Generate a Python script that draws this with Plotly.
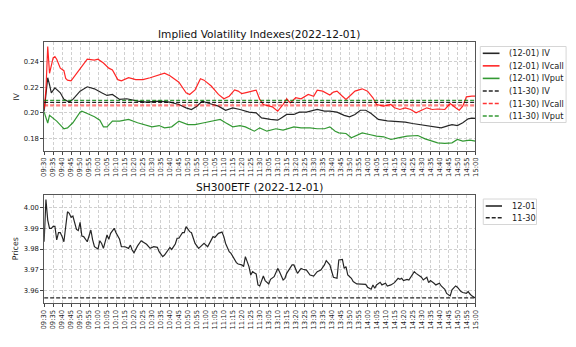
import plotly.graph_objects as go

# ---------------- data ----------------
tick_labels = ["09:30", "09:35", "09:40", "09:45", "09:50", "09:55", "10:00", "10:05", "10:10",
               "10:15", "10:20", "10:25", "10:30", "10:35", "10:40", "10:45", "10:50", "10:55",
               "11:00", "11:05", "11:10", "11:15", "11:20", "11:25", "11:30",
               "13:05", "13:10", "13:15", "13:20", "13:25", "13:30", "13:35", "13:40", "13:45",
               "13:50", "13:55", "14:00", "14:05", "14:10", "14:15", "14:20", "14:25", "14:30",
               "14:35", "14:40", "14:45", "14:50", "14:55", "15:00"]

call_times = ["09:30", "09:31", "09:32", "09:33", "09:34", "09:35", "09:36", "09:37", "09:39", "09:41",
              "09:42", "09:43", "09:45", "09:47", "09:50", "09:54", "09:58", "10:00", "10:03", "10:06",
              "10:08", "10:11", "10:13", "10:17", "10:21", "10:25", "10:29", "10:33", "10:37", "10:40",
              "10:45", "10:49", "10:51", "10:54", "10:57", "10:59", "11:03", "11:07", "11:10", "11:13",
              "11:16", "11:18", "11:20", "11:23", "11:26", "11:28", "11:30", "13:02", "13:07", "13:10",
              "13:13", "13:15", "13:17", "13:20", "13:23", "13:27", "13:30", "13:32", "13:35", "13:39",
              "13:41", "13:43", "13:46", "13:48", "13:51", "13:53", "13:57", "14:00", "14:03", "14:05",
              "14:09", "14:13", "14:15", "14:18", "14:21", "14:24", "14:27", "14:30", "14:33", "14:36",
              "14:39", "14:43", "14:46", "14:49", "14:51", "14:53", "14:55", "14:58", "15:00"]
call_vals = [0.203, 0.218, 0.252, 0.231, 0.237, 0.243, 0.244, 0.242, 0.235, 0.233,
             0.227, 0.2256, 0.225, 0.229, 0.234, 0.242, 0.2413, 0.242, 0.239, 0.235,
             0.2335, 0.226, 0.225, 0.2275, 0.226, 0.226, 0.2275, 0.229, 0.231, 0.229,
             0.224, 0.2157, 0.2144, 0.218, 0.2267, 0.2256, 0.221, 0.2144, 0.211, 0.213,
             0.218, 0.217, 0.215, 0.216, 0.217, 0.2178, 0.2105, 0.2065, 0.2047, 0.2013,
             0.2065, 0.211, 0.2078, 0.2118, 0.211, 0.2144, 0.213, 0.2178, 0.217, 0.214,
             0.2162, 0.217, 0.213, 0.2105, 0.2144, 0.217, 0.2188, 0.217, 0.2118, 0.2065,
             0.2052, 0.2065, 0.2039, 0.2026, 0.2039, 0.2026, 0.200, 0.202, 0.2039, 0.2026,
             0.203, 0.2026, 0.2073, 0.2039, 0.202, 0.2052, 0.2125, 0.213, 0.213]

iv_times = ["09:30", "09:31", "09:32", "09:33", "09:34", "09:36", "09:39", "09:41", "09:44", "09:46",
            "09:50", "09:54", "09:58", "10:02", "10:05", "10:08", "10:12", "10:16", "10:22", "10:27",
            "10:34", "10:40", "10:45", "10:49", "10:52", "10:55", "10:58", "11:02", "11:07", "11:11",
            "11:15", "11:19", "11:24", "11:28", "13:01", "13:06", "13:10", "13:12", "13:15", "13:19",
            "13:22", "13:26", "13:29", "13:32", "13:36", "13:39", "13:43", "13:47", "13:50", "13:53",
            "13:56", "13:59", "14:02", "14:06", "14:11", "14:15", "14:21", "14:25", "14:29", "14:34",
            "14:37", "14:41", "14:45", "14:47", "14:50", "14:53", "14:56", "14:58", "15:00"]
iv_vals = [0.201, 0.215, 0.2275, 0.222, 0.2157, 0.2196, 0.2157, 0.2105, 0.2084, 0.2105,
           0.217, 0.2204, 0.2188, 0.2157, 0.2136, 0.2144, 0.2105, 0.211, 0.2092, 0.2084,
           0.2092, 0.2084, 0.2065, 0.2039, 0.2026, 0.2052, 0.2092, 0.2073, 0.2052, 0.202,
           0.2039, 0.2026, 0.2005, 0.200, 0.196, 0.1948, 0.1942, 0.196, 0.1987, 0.1987,
           0.2005, 0.2005, 0.2013, 0.2026, 0.2013, 0.2013, 0.2005, 0.198, 0.1969, 0.1987,
           0.202, 0.202, 0.1995, 0.1948, 0.1937, 0.1932, 0.1927, 0.1916, 0.1908, 0.190,
           0.189, 0.1882, 0.190, 0.1908, 0.190, 0.1922, 0.1953, 0.1958, 0.1956]

put_times = ["09:30", "09:32", "09:33", "09:35", "09:37", "09:40", "09:41", "09:43", "09:46", "09:50",
             "09:51", "09:54", "09:58", "10:01", "10:03", "10:05", "10:08", "10:12", "10:17", "10:22",
             "10:26", "10:30", "10:34", "10:37", "10:41", "10:45", "10:50", "10:54", "10:59", "11:04",
             "11:08", "11:11", "11:15", "11:19", "11:22", "11:27", "11:30", "13:04", "13:09", "13:13",
             "13:19", "13:23", "13:28", "13:32", "13:36", "13:39", "13:42", "13:44", "13:48", "13:51",
             "13:53", "13:57", "14:01", "14:05", "14:09", "14:13", "14:17", "14:22", "14:28", "14:32",
             "14:36", "14:39", "14:43", "14:47", "14:50", "14:53", "14:57", "15:00"]
put_vals = [0.2005, 0.192, 0.198, 0.196, 0.1935, 0.189, 0.1875, 0.1882, 0.1922, 0.2005,
            0.2013, 0.1995, 0.1969, 0.1942, 0.189, 0.189, 0.1935, 0.1935, 0.1948, 0.1922,
            0.1908, 0.189, 0.190, 0.1882, 0.189, 0.1935, 0.1908, 0.1908, 0.1922, 0.1935,
            0.1948, 0.1922, 0.189, 0.190, 0.189, 0.1856, 0.1882, 0.1856, 0.1875, 0.1864,
            0.189, 0.1882, 0.1882, 0.1875, 0.1875, 0.189, 0.1856, 0.1843, 0.1838, 0.1804,
            0.1817, 0.1843, 0.183, 0.1817, 0.1812, 0.1791, 0.1804, 0.1817, 0.1822, 0.1796,
            0.1778, 0.1765, 0.176, 0.1765, 0.1791, 0.1778, 0.1786, 0.1778]

prev_iv = 0.2081      # (11-30) IV
prev_call = 0.2059    # (11-30) IVcall
prev_put = 0.2097     # (11-30) IVput

price_times = ["09:30", "09:31", "09:32", "09:33", "09:34", "09:35", "09:36", "09:37", "09:38", "09:39",
               "09:40", "09:41", "09:42", "09:43", "09:44", "09:45", "09:46", "09:47", "09:48", "09:49",
               "09:50", "09:51", "09:52", "09:54", "09:56", "09:57", "09:58", "10:00", "10:01", "10:02",
               "10:03", "10:05", "10:06", "10:07", "10:09", "10:10", "10:12", "10:13", "10:15", "10:17",
               "10:18", "10:19", "10:20", "10:22", "10:24", "10:27", "10:29", "10:31", "10:33", "10:34",
               "10:36", "10:37", "10:38", "10:40", "10:41", "10:43", "10:44", "10:45", "10:47", "10:48",
               "10:49", "10:51", "10:52", "10:54", "10:56", "10:57", "10:59", "11:01", "11:02", "11:04",
               "11:05", "11:07", "11:09", "11:10", "11:11", "11:13", "11:14", "11:16", "11:17", "11:18",
               "11:20", "11:21", "11:22", "11:24", "11:25", "11:26", "11:28", "11:29", "11:30", "13:02",
               "13:03", "13:05", "13:06", "13:08", "13:10", "13:11", "13:13", "13:14", "13:15", "13:18",
               "13:19", "13:21", "13:23", "13:24", "13:26", "13:28", "13:30", "13:32", "13:34", "13:36",
               "13:37", "13:39", "13:40", "13:41", "13:43", "13:44", "13:46", "13:47", "13:48", "13:49",
               "13:51", "13:52", "13:54", "13:56", "13:59", "14:00", "14:02", "14:03", "14:04", "14:05",
               "14:07", "14:08", "14:10", "14:11", "14:13", "14:15", "14:17", "14:18", "14:19", "14:20",
               "14:22", "14:23", "14:24", "14:26", "14:27", "14:29", "14:30", "14:31", "14:33", "14:34",
               "14:35", "14:37", "14:38", "14:40", "14:41", "14:43", "14:44", "14:46", "14:47", "14:49",
               "14:50", "14:52", "14:53", "14:55", "14:56", "14:57", "14:58", "15:00"]
price_vals = [3.9835, 4.004, 3.994, 3.990, 3.990, 3.991, 3.991, 3.9844, 3.9879, 3.9879,
              3.986, 3.9835, 3.9908, 3.998, 3.9973, 3.9953, 3.996, 3.9932, 3.9895, 3.9889,
              3.9929, 3.9863, 3.986, 3.9835, 3.9892, 3.9844, 3.9811, 3.980, 3.984, 3.9827,
              3.9803, 3.9868, 3.9847, 3.9876, 3.990, 3.9879, 3.9847, 3.9811, 3.9811, 3.9803,
              3.9819, 3.9795, 3.9782, 3.9815, 3.984, 3.9823, 3.9803, 3.9811, 3.9808, 3.9787,
              3.9763, 3.9771, 3.9782, 3.9808, 3.9798, 3.9824, 3.9852, 3.9852, 3.9879, 3.9879,
              3.9908, 3.9884, 3.9879, 3.9827, 3.9803, 3.9811, 3.9827, 3.9811, 3.9827, 3.986,
              3.9856, 3.9876, 3.9882, 3.986, 3.9827, 3.9787, 3.9779, 3.9747, 3.9734, 3.9727,
              3.9723, 3.9715, 3.9763, 3.9715, 3.9674, 3.969, 3.9679, 3.9626, 3.9621, 3.9669,
              3.9647, 3.9631, 3.9653, 3.9666, 3.9706, 3.969, 3.965, 3.9658, 3.9682, 3.9723,
              3.9723, 3.9682, 3.9706, 3.9702, 3.9698, 3.9674, 3.9669, 3.969, 3.9698, 3.9723,
              3.9744, 3.9723, 3.9698, 3.9663, 3.9658, 3.9747, 3.975, 3.9706, 3.9715, 3.9674,
              3.9658, 3.9642, 3.9631, 3.9629, 3.9629, 3.9615, 3.9605, 3.9626, 3.961, 3.9626,
              3.9639, 3.9626, 3.9634, 3.9621, 3.9626, 3.9637, 3.9658, 3.9653, 3.9658, 3.9647,
              3.9653, 3.965, 3.9663, 3.969, 3.9682, 3.9669, 3.9663, 3.965, 3.9663, 3.9637,
              3.9647, 3.9634, 3.9626, 3.9634, 3.9621, 3.9605, 3.9585, 3.9573, 3.9602, 3.9621,
              3.9615, 3.9594, 3.9589, 3.9585, 3.9594, 3.9582, 3.9573, 3.9563]
prev_price = 3.9563   # 11-30 price


# -------- map trading time to a continuous session position (lunch break removed) --------
def pos(t):
    h, m = map(int, t.split(":"))
    mins = h * 60 + m
    return mins - 570 if mins <= 690 else mins - 780 + 120


def posl(ts):
    return [pos(t) for t in ts]


x_start, x_end = pos(tick_labels[0]), pos(tick_labels[-1])
tick_pos = posl(tick_labels)

FONT = "DejaVu Sans"
BLACK = "rgba(0,0,0,0.85)"
RED = "rgba(255,0,0,0.85)"
GREEN = "rgba(0,128,0,0.8)"
PINK = "rgba(255,0,0,0.5)"
DASH = "4px,2px"

fig = go.Figure()

# top panel
fig.add_trace(go.Scatter(x=posl(iv_times), y=iv_vals, mode="lines", name="(12-01) IV",
                         line=dict(color=BLACK, width=1.2), xaxis="x", yaxis="y"))
fig.add_trace(go.Scatter(x=posl(call_times), y=call_vals, mode="lines", name="(12-01) IVcall",
                         line=dict(color=RED, width=1.2), xaxis="x", yaxis="y"))
fig.add_trace(go.Scatter(x=posl(put_times), y=put_vals, mode="lines", name="(12-01) IVput",
                         line=dict(color=GREEN, width=1.2), xaxis="x", yaxis="y"))
fig.add_trace(go.Scatter(x=[x_start, x_end], y=[prev_iv, prev_iv], mode="lines", name="(11-30) IV",
                         line=dict(color=BLACK, width=1.2, dash=DASH), xaxis="x", yaxis="y"))
fig.add_trace(go.Scatter(x=[x_start, x_end], y=[prev_call, prev_call], mode="lines", name="(11-30) IVcall",
                         line=dict(color=PINK, width=2.2, dash=DASH), xaxis="x", yaxis="y"))
fig.add_trace(go.Scatter(x=[x_start, x_end], y=[prev_put, prev_put], mode="lines", name="(11-30) IVput",
                         line=dict(color=GREEN, width=1.2, dash=DASH), xaxis="x", yaxis="y"))

# bottom panel
fig.add_trace(go.Scatter(x=posl(price_times), y=price_vals, mode="lines", name="12-01",
                         line=dict(color=BLACK, width=1.2), xaxis="x2", yaxis="y2"))
fig.add_trace(go.Scatter(x=[x_start, x_end], y=[prev_price, prev_price], mode="lines", name="11-30",
                         line=dict(color=BLACK, width=1.2, dash=DASH), xaxis="x2", yaxis="y2"))

W, H = 576, 347
xl, xr = 40.7 / W, 478 / W
top_dom = [1 - 150.7 / H, 1 - 42 / H]
bot_dom = [1 - 303.3 / H, 1 - 194.7 / H]

common_x = dict(range=[x_start, x_end], tickmode="array", tickvals=tick_pos, ticktext=tick_labels,
                tickangle=-90, tickfont=dict(size=6.8, color="#222"), ticks="outside", ticklen=3,
                tickcolor="#444", showgrid=True, gridcolor="#d0d0d0", griddash="3px,2px", gridwidth=0.8,
                showline=True, linecolor="#555", linewidth=0.8, mirror=True, zeroline=False,
                domain=[xl, xr])
common_y = dict(tickfont=dict(size=6.8, color="#222"), ticks="outside", ticklen=3, tickcolor="#444",
                showgrid=True, gridcolor="#d0d0d0", griddash="3px,2px", gridwidth=0.8,
                showline=True, linecolor="#555", linewidth=0.8, mirror=True, zeroline=False)

# ---- hand-drawn legends (matplotlib-like compact spacing), in pixel coordinates ----
shapes = []
annotations = []


def px_x(v):
    return v / W


def px_y(v):
    return 1 - v / H


def legend_box(x0, y0, x1, y1, entries, line_x0, line_x1, text_x, row0, step):
    shapes.append(dict(type="rect", xref="paper", yref="paper", x0=px_x(x0), x1=px_x(x1),
                       y0=px_y(y1), y1=px_y(y0), line=dict(color="#d6d6d6", width=1),
                       fillcolor="rgba(255,255,255,0.85)", layer="above"))
    for i, (label, color, width, dash) in enumerate(entries):
        yy = row0 + i * step
        shapes.append(dict(type="line", xref="paper", yref="paper", x0=px_x(line_x0), x1=px_x(line_x1),
                           y0=px_y(yy), y1=px_y(yy), line=dict(color=color, width=width, dash=dash),
                           layer="above"))
        annotations.append(dict(text=label, x=px_x(text_x), y=px_y(yy), xref="paper", yref="paper",
                                showarrow=False, xanchor="left", yanchor="middle",
                                font=dict(size=8.2, color="#222")))


top_entries = [("(12-01) IV", BLACK, 1.6, "solid"),
               ("(12-01) IVcall", RED, 1.6, "solid"),
               ("(12-01) IVput", GREEN, 1.6, "solid"),
               ("(11-30) IV", BLACK, 1.6, DASH),
               ("(11-30) IVcall", "rgba(255,0,0,0.8)", 1.6, DASH),
               ("(11-30) IVput", GREEN, 1.6, DASH)]
legend_box(483, 46.5, 570, 122.5, top_entries, 485.5, 502.5, 510, 53.3, 12.55)

bot_entries = [("12-01", BLACK, 1.6, "solid"),
               ("11-30", BLACK, 1.6, DASH)]
legend_box(486, 199, 540, 224.5, bot_entries, 488.5, 505, 513.5, 206, 11.7)

annotations += [
    dict(text="Implied Volatility Indexes(2022-12-01)", x=(xl + xr) / 2, y=1 - 34.5 / H,
         xref="paper", yref="paper", showarrow=False, xanchor="center", yanchor="middle",
         font=dict(size=10.6, color="#111")),
    dict(text="SH300ETF (2022-12-01)", x=(xl + xr) / 2, y=1 - 187 / H,
         xref="paper", yref="paper", showarrow=False, xanchor="center", yanchor="middle",
         font=dict(size=10.6, color="#111")),
    dict(text="IV", x=12.5 / W, y=sum(top_dom) / 2, xref="paper", yref="paper", showarrow=False,
         textangle=-90, xanchor="center", yanchor="middle", font=dict(size=7.8, color="#222")),
    dict(text="Prices", x=12.5 / W, y=sum(bot_dom) / 2, xref="paper", yref="paper", showarrow=False,
         textangle=-90, xanchor="center", yanchor="middle", font=dict(size=7.8, color="#222")),
]

fig.update_layout(
    width=W, height=H, margin=dict(l=0, r=0, t=0, b=0),
    paper_bgcolor="white", plot_bgcolor="white",
    font=dict(family=FONT, color="#222"),
    showlegend=False,
    xaxis=dict(common_x, anchor="y"),
    yaxis=dict(common_y, domain=top_dom, range=[0.1703, 0.2555], tickvals=[0.18, 0.20, 0.22, 0.24],
               ticktext=["0.18", "0.20", "0.22", "0.24"], anchor="x"),
    xaxis2=dict(common_x, anchor="y2"),
    yaxis2=dict(common_y, domain=bot_dom, range=[3.9537, 4.0063],
                tickvals=[3.96, 3.97, 3.98, 3.99, 4.00],
                ticktext=["3.96", "3.97", "3.98", "3.99", "4.00"], anchor="x2"),
    shapes=shapes,
    annotations=annotations,
)

fig.write_html("out.html")
